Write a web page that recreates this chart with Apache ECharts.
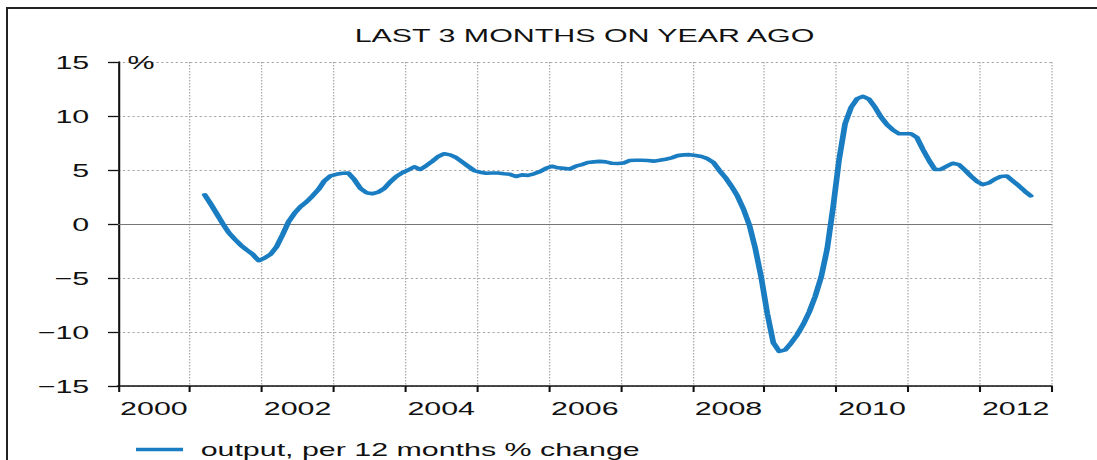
<!DOCTYPE html>
<html>
<head>
<meta charset="utf-8">
<script src="https://cdn.jsdelivr.net/npm/echarts@6/dist/echarts.min.js"></script>
<style>
  html, body { margin: 0; padding: 0; background: #fff; }
  #frame { position: absolute; left: 6px; top: 7px; width: 1091px; height: 453px;
           border-top: 2px solid #222; border-left: 2px solid #222; box-sizing: border-box; }
  #chart { position: absolute; left: 0; top: 0; width: 685.625px; height: 460px;
           transform: scaleX(1.6); transform-origin: 0 0; }
</style>
</head>
<body>
<div id="frame"></div>
<div id="chart"></div>
<script>
// ---- data ----
const titleText = 'LAST 3 MONTHS ON YEAR AGO';
const seriesName = 'output, per 12 months % change';
const years = ['2000','2001','2002','2003','2004','2005','2006','2007','2008','2009','2010','2011','2012'];
const startYear = 2001;
const startMonth = 3; // March 2001, monthly observations
const values = [
  2.7, 1.85, 0.95, 0.03, -0.8, -1.4, -1.95, -2.4, -2.8, -3.4,
  -3.15, -2.8, -2.1, -1.0, 0.2, 1.0, 1.6, 2.05, 2.6, 3.2,
  4.0, 4.45, 4.6, 4.7, 4.72, 4.1, 3.3, 2.9, 2.8, 2.95,
  3.3, 3.9, 4.4, 4.75, 5.0, 5.3, 5.05, 5.4, 5.8, 6.25,
  6.5, 6.4, 6.15, 5.75, 5.35, 4.95, 4.8, 4.7, 4.72, 4.72,
  4.65, 4.6, 4.4, 4.55, 4.5, 4.65, 4.85, 5.15, 5.35, 5.2,
  5.15, 5.1, 5.35, 5.5, 5.7, 5.75, 5.8, 5.75, 5.63, 5.6,
  5.65, 5.88, 5.9, 5.9, 5.88, 5.82, 5.9, 6.0, 6.12, 6.33,
  6.4, 6.42, 6.35, 6.25, 6.05, 5.7, 4.95, 4.3, 3.5, 2.6,
  1.4, -0.1, -2.3, -5.0, -8.3, -11.0, -11.8, -11.65, -11.0, -10.25,
  -9.3, -8.15, -6.7, -4.9, -2.3, 1.6, 6.0, 9.3, 10.8, 11.6,
  11.82, 11.55, 10.8, 9.9, 9.2, 8.7, 8.36, 8.36, 8.35, 8.0,
  6.9, 5.9, 5.05, 5.05, 5.35, 5.63, 5.5, 5.0, 4.45, 3.95,
  3.65, 3.8, 4.15, 4.4, 4.45, 4.0, 3.55, 3.05, 2.6
];
const yMin = -15, yMax = 15, yStep = 5;

// ---- chart ----
const points = values.map((v, i) => [startYear + (startMonth - 0.5 + i) / 12, v]);
const FONT = 'Liberation Sans, Arial, Helvetica, sans-serif';
const FS = 19;
const chart = echarts.init(document.getElementById('chart'), null, { renderer: 'svg' });
chart.setOption({
  animation: false,
  backgroundColor: 'transparent',
  title: {
    text: titleText, left: 365.3, top: 26, textAlign: 'center', padding: 0,
    textStyle: { fontFamily: FONT, fontSize: FS, fontWeight: 'normal', color: '#111' }
  },
  legend: {
    data: [seriesName], left: 80, top: 435, icon: 'rect', itemWidth: 29.4, itemHeight: 3.5,
    textStyle: { fontFamily: FONT, fontSize: FS, color: '#111', padding: [0, 0, 0, 6] }
  },
  grid: { left: 73.75, right: 28.75, top: 62, bottom: 74, containLabel: false },
  xAxis: [
    {
      type: 'category', data: years, boundaryGap: true,
      axisLine: { show: true, onZero: false, lineStyle: { color: '#111', width: 1.6 } },
      axisTick: { show: true, interval: 0, length: 6, lineStyle: { color: '#111', width: 1.3 } },
      axisLabel: { interval: 1, margin: 13, fontFamily: FONT, fontSize: FS, color: '#111' },
      splitLine: { show: true, interval: 0, lineStyle: { color: '#aaa', width: 0.8, type: [1.5, 1.5] } }
    },
    { type: 'value', min: 2000, max: 2013, show: false }
  ],
  yAxis: {
    type: 'value', min: yMin, max: yMax, interval: yStep,
    name: '%', nameLocation: 'end', nameGap: 0,
    nameTextStyle: { fontFamily: FONT, fontSize: FS, color: '#111', align: 'left', verticalAlign: 'middle', padding: [0, 0, 0, 6] },
    axisLine: { show: true, onZero: false, lineStyle: { color: '#111', width: 1.3 } },
    axisTick: { show: true, length: 6.25, lineStyle: { color: '#111', width: 1.3 } },
    axisLabel: { margin: 18, fontFamily: FONT, fontSize: FS, color: '#111',
      formatter: v => String(v).replace('-', '\u2212') },
    splitLine: { show: true, lineStyle: { color: '#aaa', width: 0.8, type: [1.5, 1.5] } }
  },
  series: [{
    name: seriesName, type: 'line', xAxisIndex: 1, data: points,
    showSymbol: false, symbol: 'none', smooth: false,
    lineStyle: { color: '#1a7dc2', width: 3.6, join: 'round', cap: 'round' },
    itemStyle: { color: '#1a7dc2' },
    markLine: {
      silent: true, symbol: 'none', label: { show: false }, animation: false,
      lineStyle: { color: '#777', width: 1.2, type: 'solid' },
      data: [{ yAxis: 0 }]
    },
    z: 5
  }]
});
</script>
</body>
</html>
